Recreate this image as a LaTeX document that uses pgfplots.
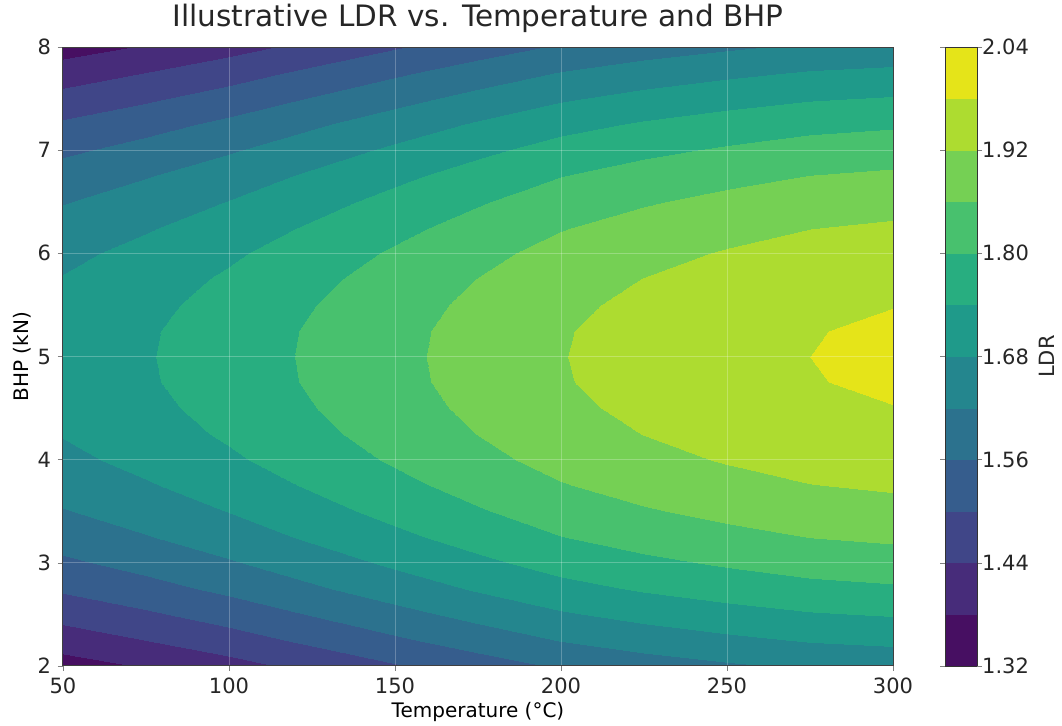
\documentclass[border=0pt]{standalone}
\usepackage{fontspec}
\setmainfont{DejaVu Sans}
\usepackage{pgfplots}
\pgfplotsset{compat=1.18}
\begin{document}
\begin{tikzpicture}
\begin{axis}[
  view={0}{90},
  scale only axis,
  width=415pt, height=309.5pt,
  xmin=50, xmax=300, ymin=2, ymax=8,
  xtick={50,100,...,300}, ytick={2,3,...,8},
  hide z axis,
  /pgf/number format/assume math mode=true,
  tick label style={font=\fontsize{10.5}{12}\selectfont, text=black!85},
  label style={font=\fontsize{10.5}{12}\selectfont, text=black!85},
  title style={font=\fontsize{14.75}{17}\selectfont, text=black!85,
    at={(axis description cs:0.5,1.0145)}, anchor=base},
  title={Illustrative LDR vs. Temperature and BHP},
  xlabel={Temperature (°C)},
  ylabel={BHP (kN)},
  every axis x label/.style={at={(axis description cs:0.5,-0.084)}, anchor=base},
  every axis y label/.style={at={(axis description cs:-0.0494,0.5)}, anchor=center, rotate=90},
  tick align=outside, major tick length=2.5pt,
  xtick pos=bottom, ytick pos=left,
  axis line style={black!75, line width=0.5pt},
  grid=major,
  grid style={white, opacity=0.25, line width=0.5pt},
  axis on top,
  colormap={ldr}{
    rgb255=(71,15,98) rgb255=(71,44,122) rgb255=(64,70,136) rgb255=(54,93,141)
    rgb255=(44,114,142) rgb255=(36,134,142) rgb255=(31,154,138) rgb255=(40,174,128)
    rgb255=(72,193,110) rgb255=(117,208,84) rgb255=(173,220,48) rgb255=(229,228,25)},
  colormap access=piecewise constant,
  point meta min=1.32, point meta max=2.04,
  colorbar,
  colorbar style={
    at={(parent axis.north east)}, anchor=north west, xshift=17.5pt,
    scale only axis, width=16pt, height=309.5pt,
    ytick={1.32,1.44,1.56,1.68,1.80,1.92,2.04},
    /pgf/number format/assume math mode=true,
    yticklabel style={font=\fontsize{10.5}{12}\selectfont, text=black!85, xshift=-3.5pt,
      /pgf/number format/.cd, fixed, fixed zerofill, precision=2, assume math mode=true},
    tick align=outside, major tick length=2.5pt,
    axis line style={black!80, line width=0.5pt},
    ylabel={LDR},
    every axis y label/.style={at={(axis description cs:3.19,0.5)}, anchor=center, rotate=90,
      font=\fontsize{10.5}{12}\selectfont, text=black!85},
  },
]
% LDR: rows of constant BHP, Temperature 50..300
\addplot3[surf, shader=interp, mesh/cols=11] table[x=T, y=P, z=L] {
T P L
50 2.00 1.354
75 2.00 1.385
100 2.00 1.419
125 2.00 1.457
150 2.00 1.495
175 2.00 1.532
200 2.00 1.567
225 2.00 1.592
250 2.00 1.612
275 2.00 1.629
300 2.00 1.638
50 2.25 1.410
75 2.25 1.441
100 2.25 1.475
125 2.25 1.513
150 2.25 1.551
175 2.25 1.588
200 2.25 1.623
225 2.25 1.648
250 2.25 1.668
275 2.25 1.685
300 2.25 1.694
50 2.50 1.461
75 2.50 1.492
100 2.50 1.526
125 2.50 1.564
150 2.50 1.602
175 2.50 1.639
200 2.50 1.674
225 2.50 1.699
250 2.50 1.719
275 2.50 1.736
300 2.50 1.745
50 2.75 1.508
75 2.75 1.539
100 2.75 1.573
125 2.75 1.611
150 2.75 1.649
175 2.75 1.686
200 2.75 1.721
225 2.75 1.746
250 2.75 1.766
275 2.75 1.783
300 2.75 1.792
50 3.00 1.549
75 3.00 1.580
100 3.00 1.614
125 3.00 1.652
150 3.00 1.690
175 3.00 1.727
200 3.00 1.762
225 3.00 1.787
250 3.00 1.807
275 3.00 1.824
300 3.00 1.833
50 3.25 1.586
75 3.25 1.617
100 3.25 1.651
125 3.25 1.689
150 3.25 1.727
175 3.25 1.764
200 3.25 1.799
225 3.25 1.824
250 3.25 1.844
275 3.25 1.861
300 3.25 1.870
50 3.50 1.617
75 3.50 1.648
100 3.50 1.682
125 3.50 1.720
150 3.50 1.758
175 3.50 1.795
200 3.50 1.830
225 3.50 1.855
250 3.50 1.875
275 3.50 1.892
300 3.50 1.901
50 3.75 1.644
75 3.75 1.675
100 3.75 1.709
125 3.75 1.747
150 3.75 1.785
175 3.75 1.822
200 3.75 1.857
225 3.75 1.882
250 3.75 1.902
275 3.75 1.919
300 3.75 1.928
50 4.00 1.666
75 4.00 1.697
100 4.00 1.731
125 4.00 1.769
150 4.00 1.807
175 4.00 1.844
200 4.00 1.879
225 4.00 1.904
250 4.00 1.924
275 4.00 1.941
300 4.00 1.950
50 4.25 1.683
75 4.25 1.714
100 4.25 1.748
125 4.25 1.786
150 4.25 1.824
175 4.25 1.861
200 4.25 1.896
225 4.25 1.921
250 4.25 1.941
275 4.25 1.958
300 4.25 1.967
50 4.50 1.695
75 4.50 1.726
100 4.50 1.760
125 4.50 1.798
150 4.50 1.836
175 4.50 1.873
200 4.50 1.908
225 4.50 1.933
250 4.50 1.953
275 4.50 1.970
300 4.50 1.979
50 4.75 1.703
75 4.75 1.734
100 4.75 1.768
125 4.75 1.806
150 4.75 1.844
175 4.75 1.881
200 4.75 1.916
225 4.75 1.941
250 4.75 1.961
275 4.75 1.978
300 4.75 1.987
50 5.00 1.705
75 5.00 1.736
100 5.00 1.770
125 5.00 1.808
150 5.00 1.846
175 5.00 1.883
200 5.00 1.918
225 5.00 1.943
250 5.00 1.963
275 5.00 1.980
300 5.00 1.989
50 5.25 1.703
75 5.25 1.734
100 5.25 1.768
125 5.25 1.806
150 5.25 1.844
175 5.25 1.881
200 5.25 1.916
225 5.25 1.941
250 5.25 1.961
275 5.25 1.978
300 5.25 1.987
50 5.50 1.695
75 5.50 1.726
100 5.50 1.760
125 5.50 1.798
150 5.50 1.836
175 5.50 1.873
200 5.50 1.908
225 5.50 1.933
250 5.50 1.953
275 5.50 1.970
300 5.50 1.979
50 5.75 1.683
75 5.75 1.714
100 5.75 1.748
125 5.75 1.786
150 5.75 1.824
175 5.75 1.861
200 5.75 1.896
225 5.75 1.921
250 5.75 1.941
275 5.75 1.958
300 5.75 1.967
50 6.00 1.666
75 6.00 1.697
100 6.00 1.731
125 6.00 1.769
150 6.00 1.807
175 6.00 1.844
200 6.00 1.879
225 6.00 1.904
250 6.00 1.924
275 6.00 1.941
300 6.00 1.950
50 6.25 1.644
75 6.25 1.675
100 6.25 1.709
125 6.25 1.747
150 6.25 1.785
175 6.25 1.822
200 6.25 1.857
225 6.25 1.882
250 6.25 1.902
275 6.25 1.919
300 6.25 1.928
50 6.50 1.617
75 6.50 1.648
100 6.50 1.682
125 6.50 1.720
150 6.50 1.758
175 6.50 1.795
200 6.50 1.830
225 6.50 1.855
250 6.50 1.875
275 6.50 1.892
300 6.50 1.901
50 6.75 1.586
75 6.75 1.617
100 6.75 1.651
125 6.75 1.689
150 6.75 1.727
175 6.75 1.764
200 6.75 1.799
225 6.75 1.824
250 6.75 1.844
275 6.75 1.861
300 6.75 1.870
50 7.00 1.549
75 7.00 1.580
100 7.00 1.614
125 7.00 1.652
150 7.00 1.690
175 7.00 1.727
200 7.00 1.762
225 7.00 1.787
250 7.00 1.807
275 7.00 1.824
300 7.00 1.833
50 7.25 1.508
75 7.25 1.539
100 7.25 1.573
125 7.25 1.611
150 7.25 1.649
175 7.25 1.686
200 7.25 1.721
225 7.25 1.746
250 7.25 1.766
275 7.25 1.783
300 7.25 1.792
50 7.50 1.461
75 7.50 1.492
100 7.50 1.526
125 7.50 1.564
150 7.50 1.602
175 7.50 1.639
200 7.50 1.674
225 7.50 1.699
250 7.50 1.719
275 7.50 1.736
300 7.50 1.745
50 7.75 1.410
75 7.75 1.441
100 7.75 1.475
125 7.75 1.513
150 7.75 1.551
175 7.75 1.588
200 7.75 1.623
225 7.75 1.648
250 7.75 1.668
275 7.75 1.685
300 7.75 1.694
50 8.00 1.354
75 8.00 1.385
100 8.00 1.419
125 8.00 1.457
150 8.00 1.495
175 8.00 1.532
200 8.00 1.567
225 8.00 1.592
250 8.00 1.612
275 8.00 1.629
300 8.00 1.638
};
\end{axis}
\pgfresetboundingbox
\path[use as bounding box] (-31.5pt,-30pt) rectangle (499.5pt,333pt);
\end{tikzpicture}
\end{document}
